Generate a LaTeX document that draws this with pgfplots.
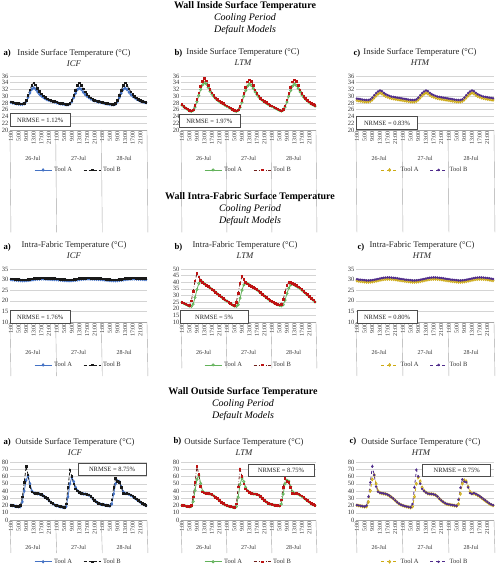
\documentclass[border=0pt]{standalone}
\usepackage{pgfplots}
\pgfplotsset{compat=1.18}
\usepackage{pgfplotstable}
\usepackage{fontspec}
\setmainfont{Liberation Serif}

\definecolor{icfA}{RGB}{68,114,196}
\definecolor{icfB}{RGB}{25,25,25}
\definecolor{ltmA}{RGB}{98,178,90}
\definecolor{ltmB}{RGB}{110,30,25}
\definecolor{ltmBm}{RGB}{190,20,20}
\definecolor{htmA}{RGB}{205,170,20}
\definecolor{htmB}{RGB}{80,45,140}

% Wall inside surface temperature (hourly, 26-28 Jul)
\pgfplotstableread{
t icfA icfB ltmA ltmB htmA htmB
0 28.2 28.3 27.4 27.5 28.8 29.3
1 28.0 28.1 26.9 27.0 28.7 29.2
2 27.9 28.0 26.5 26.6 28.6 29.1
3 27.8 27.9 26.1 26.2 28.5 29.0
4 27.7 27.8 25.7 25.8 28.4 28.9
5 27.6 27.7 25.5 25.6 28.4 28.9
6 27.6 27.7 25.8 26.0 28.4 28.9
7 27.8 27.9 26.8 27.2 28.6 29.1
8 28.5 28.8 28.4 29.0 29.0 29.6
9 29.7 30.3 30.2 31.0 29.6 30.3
10 31.0 31.9 32.0 32.9 30.2 30.9
11 32.1 33.3 33.4 34.4 30.7 31.4
12 32.5 34.0 34.0 35.2 31.0 31.7
13 32.1 33.4 33.6 34.6 30.8 31.5
14 31.3 32.3 32.6 33.3 30.4 31.0
15 30.6 31.4 31.5 32.0 30.0 30.6
16 30.1 30.7 30.6 31.0 29.8 30.3
17 29.7 30.1 29.9 30.2 29.6 30.1
18 29.3 29.6 29.3 29.5 29.4 29.9
19 29.0 29.2 28.8 29.0 29.3 29.8
20 28.8 28.9 28.4 28.6 29.2 29.7
21 28.6 28.7 28.0 28.2 29.1 29.6
22 28.4 28.5 27.7 27.8 29.0 29.5
23 28.3 28.4 27.3 27.4 28.9 29.4
24 28.1 28.3 27.0 27.1 28.8 29.3
25 27.9 28.0 26.7 26.8 28.7 29.2
26 27.8 27.9 26.4 26.5 28.6 29.1
27 27.7 27.8 26.0 26.1 28.5 29.0
28 27.6 27.7 25.7 25.8 28.4 28.9
29 27.5 27.6 25.5 25.6 28.4 28.9
30 27.5 27.6 25.8 26.0 28.4 28.9
31 27.7 27.8 26.7 27.0 28.6 29.1
32 28.4 28.7 28.2 28.8 29.0 29.6
33 29.6 30.2 30.0 30.8 29.6 30.3
34 30.9 31.8 31.7 32.7 30.2 30.9
35 32.0 33.2 33.0 34.2 30.7 31.4
36 32.4 33.9 33.6 34.9 31.0 31.7
37 32.0 33.3 33.2 34.4 30.8 31.5
38 31.2 32.2 32.3 33.2 30.4 31.0
39 30.5 31.3 31.3 31.9 30.0 30.6
40 30.0 30.6 30.5 30.9 29.8 30.3
41 29.6 30.0 29.8 30.1 29.6 30.1
42 29.2 29.5 29.2 29.4 29.4 29.9
43 28.9 29.1 28.7 28.9 29.3 29.8
44 28.7 28.8 28.3 28.5 29.2 29.7
45 28.5 28.6 27.9 28.1 29.1 29.6
46 28.3 28.4 27.6 27.7 29.0 29.5
47 28.2 28.3 27.2 27.3 28.9 29.4
48 28.1 28.2 27.0 27.1 28.8 29.3
49 27.9 28.0 26.7 26.8 28.7 29.2
50 27.8 27.9 26.4 26.5 28.6 29.1
51 27.7 27.8 26.1 26.2 28.5 29.0
52 27.6 27.7 25.8 25.9 28.4 28.9
53 27.5 27.6 25.6 25.7 28.4 28.9
54 27.5 27.6 25.9 26.1 28.4 28.9
55 27.7 27.8 26.8 27.1 28.6 29.1
56 28.4 28.7 28.3 28.9 29.0 29.6
57 29.6 30.2 30.0 30.8 29.6 30.3
58 30.9 31.8 31.7 32.7 30.2 30.9
59 32.0 33.2 33.0 34.2 30.7 31.4
60 32.4 33.9 33.6 34.9 31.0 31.7
61 32.0 33.3 33.2 34.4 30.8 31.5
62 31.2 32.2 32.3 33.2 30.4 31.0
63 30.5 31.3 31.3 31.9 30.0 30.6
64 30.0 30.6 30.4 30.9 29.8 30.3
65 29.6 30.0 29.7 30.0 29.6 30.1
66 29.2 29.5 29.1 29.3 29.4 29.9
67 28.9 29.1 28.6 28.8 29.3 29.8
68 28.6 28.7 28.1 28.3 29.2 29.7
69 28.4 28.5 27.7 27.9 29.1 29.6
70 28.2 28.3 27.4 27.5 29.0 29.5
71 28.1 28.2 27.1 27.2 28.9 29.4
}\inside

% Wall intra-fabric temperature
\pgfplotstableread{
t icfA icfB ltmA ltmB htmA htmB
0 30.00 30.40 24.8 25.0 29.50 30.20
1 29.90 30.30 24.0 24.3 29.30 30.00
2 29.80 30.20 23.3 23.6 29.20 29.90
3 29.70 30.10 22.6 23.0 29.10 29.80
4 29.60 30.00 22.0 22.5 29.00 29.70
5 29.55 29.95 21.8 26.0 28.90 29.60
6 29.50 29.90 23.5 33.0 28.90 29.60
7 29.50 29.90 28.5 41.0 28.95 29.65
8 29.55 29.95 34.5 46.5 29.05 29.75
9 29.65 30.05 39.0 44.0 29.20 29.90
10 29.75 30.15 41.0 41.5 29.40 30.10
11 29.90 30.30 40.2 40.0 29.60 30.30
12 30.05 30.45 38.8 38.8 29.80 30.50
13 30.15 30.55 37.7 37.8 30.00 30.70
14 30.25 30.65 36.7 36.8 30.15 30.85
15 30.30 30.70 35.7 35.8 30.25 30.95
16 30.35 30.75 34.7 34.8 30.30 31.00
17 30.35 30.75 33.6 33.7 30.30 31.00
18 30.30 30.70 32.4 32.5 30.25 30.95
19 30.25 30.65 31.2 31.3 30.15 30.85
20 30.20 30.60 30.0 30.1 30.05 30.75
21 30.15 30.55 28.8 28.9 29.90 30.60
22 30.10 30.50 27.6 27.7 29.75 30.45
23 30.05 30.45 26.5 26.6 29.60 30.30
24 30.00 30.40 25.8 26.0 29.50 30.20
25 29.90 30.30 24.8 25.0 29.30 30.00
26 29.80 30.20 23.8 24.0 29.20 29.90
27 29.70 30.10 22.8 23.0 29.10 29.80
28 29.60 30.00 22.0 22.3 29.00 29.70
29 29.55 29.95 21.8 25.0 28.90 29.60
30 29.50 29.90 23.0 31.5 28.90 29.60
31 29.50 29.90 28.0 39.0 28.95 29.65
32 29.55 29.95 34.0 44.5 29.05 29.75
33 29.65 30.05 38.0 42.0 29.20 29.90
34 29.75 30.15 39.5 40.0 29.40 30.10
35 29.90 30.30 39.0 38.8 29.60 30.30
36 30.05 30.45 38.0 37.8 29.80 30.50
37 30.15 30.55 37.0 37.0 30.00 30.70
38 30.25 30.65 36.0 36.2 30.15 30.85
39 30.30 30.70 35.2 35.4 30.25 30.95
40 30.35 30.75 34.3 34.5 30.30 31.00
41 30.35 30.75 33.2 33.4 30.30 31.00
42 30.30 30.70 32.0 32.2 30.25 30.95
43 30.25 30.65 30.8 31.0 30.15 30.85
44 30.20 30.60 29.6 29.8 30.05 30.75
45 30.15 30.55 28.4 28.6 29.90 30.60
46 30.10 30.50 27.2 27.4 29.75 30.45
47 30.05 30.45 26.1 26.3 29.60 30.30
48 30.00 30.40 25.3 25.5 29.50 30.20
49 29.90 30.30 24.5 24.7 29.30 30.00
50 29.80 30.20 23.8 24.0 29.20 29.90
51 29.70 30.10 23.1 23.3 29.10 29.80
52 29.60 30.00 22.5 22.8 29.00 29.70
53 29.55 29.95 22.2 23.5 28.90 29.60
54 29.50 29.90 23.0 27.0 28.90 29.60
55 29.50 29.90 26.5 32.5 28.95 29.65
56 29.55 29.95 31.5 37.5 29.05 29.75
57 29.65 30.05 35.5 39.8 29.20 29.90
58 29.75 30.15 38.0 40.0 29.40 30.10
59 29.90 30.30 38.8 39.3 29.60 30.30
60 30.05 30.45 38.0 38.3 29.80 30.50
61 30.15 30.55 37.0 37.4 30.00 30.70
62 30.25 30.65 36.2 36.6 30.15 30.85
63 30.30 30.70 35.2 35.6 30.25 30.95
64 30.35 30.75 34.0 34.4 30.30 31.00
65 30.35 30.75 32.8 33.2 30.30 31.00
66 30.30 30.70 31.6 32.0 30.25 30.95
67 30.25 30.65 30.4 30.8 30.15 30.85
68 30.20 30.60 29.0 29.2 30.05 30.75
69 30.15 30.55 27.7 27.9 29.90 30.60
70 30.10 30.50 26.4 26.6 29.75 30.45
71 30.05 30.45 25.1 25.3 29.60 30.30
}\fabric

% Wall outside surface temperature
\pgfplotstableread{
t icfA icfB ltmA ltmB htmA htmB
0 20.3 20.5 20.3 20.5 20.3 20.5
1 19.8 20.0 19.8 20.0 19.8 20.0
2 19.3 19.5 19.3 19.5 19.3 19.5
3 18.8 19.0 18.8 19.0 18.8 19.0
4 18.3 18.5 18.3 18.5 18.3 18.5
5 18.5 20.0 18.6 20.0 18.5 20.0
6 25.0 32.0 25.5 32.0 25.0 32.0
7 40.0 52.0 41.0 52.0 40.5 52.0
8 55.0 74.0 56.0 74.0 56.0 74.0
9 61.0 62.0 62.0 62.5 62.0 62.0
10 50.0 46.0 50.5 46.0 50.0 46.0
11 40.0 39.0 40.0 39.0 40.0 39.0
12 37.5 37.5 37.5 37.5 37.5 37.5
13 36.8 37.0 36.8 37.0 36.8 37.0
14 36.3 36.5 36.3 36.5 36.3 36.5
15 35.8 36.0 35.8 36.0 35.8 36.0
16 34.8 35.0 34.8 35.0 34.8 35.0
17 33.3 33.5 33.3 33.5 33.3 33.5
18 31.3 31.5 31.3 31.5 31.3 31.5
19 29.3 29.5 29.3 29.5 29.3 29.5
20 26.8 27.0 26.8 27.0 26.8 27.0
21 24.3 24.5 24.3 24.5 24.3 24.5
22 22.3 22.5 22.3 22.5 22.3 22.5
23 20.8 21.0 20.8 21.0 20.8 21.0
24 19.8 20.0 19.8 20.0 19.8 20.0
25 19.0 19.2 19.0 19.2 19.0 19.2
26 18.3 18.5 18.3 18.5 18.3 18.5
27 17.6 17.8 17.6 17.8 17.6 17.8
28 17.1 17.3 17.1 17.3 17.1 17.3
29 18.5 22.0 18.5 22.0 18.5 22.0
30 32.0 45.0 31.5 45.5 32.0 45.0
31 50.0 69.0 49.0 70.0 50.0 69.0
32 59.0 60.0 58.0 60.5 59.0 60.0
33 53.0 50.0 53.0 50.0 53.5 50.0
34 45.0 43.0 45.0 43.0 45.0 43.0
35 40.5 40.0 40.5 40.0 40.5 40.0
36 38.0 38.0 38.0 38.0 38.0 38.0
37 36.5 36.5 36.5 36.5 36.5 36.5
38 36.0 36.0 36.0 36.0 36.0 36.0
39 35.8 35.8 35.8 35.8 35.8 35.8
40 35.3 35.5 35.3 35.5 35.3 35.5
41 34.3 34.5 34.3 34.5 34.3 34.5
42 32.3 32.5 32.3 32.5 32.3 32.5
43 29.3 29.5 29.3 29.5 29.3 29.5
44 26.8 27.0 26.8 27.0 26.8 27.0
45 24.8 25.0 24.8 25.0 24.8 25.0
46 23.0 23.2 23.0 23.2 23.0 23.2
47 21.8 22.0 21.8 22.0 21.8 22.0
48 21.3 21.5 21.3 21.5 21.3 21.5
49 20.8 21.0 20.8 21.0 20.8 21.0
50 20.3 20.5 20.3 20.5 20.3 20.5
51 19.8 20.0 19.8 20.0 19.8 20.0
52 19.3 19.5 19.3 19.5 19.3 19.5
53 22.0 28.0 22.0 28.0 22.0 28.0
54 36.0 45.0 36.0 45.0 36.0 44.5
55 50.0 57.0 50.0 57.0 50.0 56.0
56 54.0 53.0 55.0 53.5 55.0 53.0
57 53.0 52.0 53.5 52.0 53.5 52.0
58 46.0 45.0 46.0 45.0 46.0 45.0
59 39.0 37.0 39.0 37.0 39.0 37.0
60 36.5 36.0 36.5 36.0 36.5 36.0
61 36.5 37.0 36.5 37.0 36.5 37.0
62 35.5 36.0 35.5 36.0 35.5 36.0
63 34.0 34.5 34.0 34.5 34.0 34.5
64 32.5 33.0 32.5 33.0 32.5 33.0
65 30.5 31.0 30.5 31.0 30.5 31.0
66 28.5 29.0 28.5 29.0 28.5 29.0
67 26.5 27.0 26.5 27.0 26.5 27.0
68 24.5 25.0 24.5 25.0 24.5 25.0
69 22.5 23.0 22.5 23.0 22.5 23.0
70 21.0 21.5 21.0 21.5 21.0 21.5
71 20.0 20.5 20.0 20.5 20.0 20.5
}\outside

\pgfplotsset{
  panel/.style={
    scale only axis, anchor=south west,
    xmin=-0.5, xmax=71.5,
    xtick={0,4,...,68},
    xticklabels={1:00,5:00,9:00,13:00,17:00,21:00,1:00,5:00,9:00,13:00,17:00,21:00,1:00,5:00,9:00,13:00,17:00,21:00},
    x tick label style={rotate=90, anchor=east, font=\fontsize{6}{6}\selectfont, inner sep=1pt, text=black!80},
    y tick label style={font=\fontsize{6.5}{7}\selectfont, text=black!80, inner sep=1.5pt},
    major tick length=0pt,
    ymajorgrids, grid style={black!17, line width=0.5pt},
    axis x line*=bottom, axis y line*=left,
    x axis line style={black!35}, y axis line style={draw=none},
    /pgf/number format/assume math mode=true,
    clip=false,
    legend columns=2,
    legend style={draw=none, fill=none, anchor=center,
      font=\fontsize{6.5}{7}\selectfont, text=black!80,
      /tikz/every even column/.append style={column sep=9pt}},
  },
  sA/.style={icfA, solid, line width=0.8pt, mark=diamond*, mark size=1.2pt},
  sB/.style={icfB, densely dashed, line width=0.8pt, mark=square*, mark size=0.8pt, mark options={solid}},
  lA/.style={ltmA, solid, line width=0.8pt, mark=*, mark size=1.1pt, mark options={fill=white, draw=ltmA}},
  lB/.style={ltmB, dash dot, line width=0.8pt, mark=square*, mark size=0.8pt, mark options={solid, fill=ltmBm, draw=ltmBm}},
  hA/.style={htmA, dashed, line width=0.8pt, mark=diamond*, mark size=1.3pt, mark options={solid, fill=white, draw=htmA}},
  hB/.style={htmB, dashed, line width=0.8pt, mark=*, mark size=0.8pt, mark options={solid}},
}

% day grouping under the hour labels: separators and day names
\newcommand{\days}[2]{%
  \draw[black!35] (rel axis cs:0,0) -- ++(0,-#1);
  \draw[black!35] (rel axis cs:0.33333,0) -- ++(0,-#1);
  \draw[black!35] (rel axis cs:0.66667,0) -- ++(0,-#1);
  \draw[black!35] (rel axis cs:1,0) -- ++(0,-#1);
  \node[font=\fontsize{6}{7}\selectfont, text=black!80, yshift=-#2] at (rel axis cs:0.16667,0) {26-Jul};
  \node[font=\fontsize{6}{7}\selectfont, text=black!80, yshift=-#2] at (rel axis cs:0.5,0) {27-Jul};
  \node[font=\fontsize{6}{7}\selectfont, text=black!80, yshift=-#2] at (rel axis cs:0.83333,0) {28-Jul};
}
\newcommand{\nrmse}[4]{%
  \node[draw=black!70, line width=0.7pt, fill=white, minimum width=#3, minimum height=12.5pt,
        inner sep=0pt, font=\fontsize{6.5}{7}\selectfont, text=black!85] at (rel axis cs:#1,#2) {#4};
}

\newcommand{\sectitle}[3]{%
  \node[font=\fontsize{10}{12}\selectfont\bfseries] at (#1pt,#2pt) {#3};
  \node[font=\fontsize{10}{12}\selectfont\itshape] at (#1pt,#2pt-12pt) {Cooling Period};
  \node[font=\fontsize{10}{12}\selectfont\itshape] at (#1pt,#2pt-24pt) {Default Models};
}
\newcommand{\ptitle}[4]{% x, y, title, model
  \node[font=\fontsize{8.7}{10}\selectfont, text=black!85] at (#1pt,#2pt) {#3};
  \node[font=\fontsize{8.7}{10}\selectfont\itshape, text=black!85] at (#1pt,#2pt-10.5pt) {#4};
}
\newcommand{\tag}[3]{\node[anchor=west, font=\fontsize{8.7}{10}\selectfont\bfseries] at (#1pt,#2pt) {#3};}

\begin{document}
\begin{tikzpicture}
\useasboundingbox (0,0) rectangle (500pt,571pt);

% ---------------- inside surface ----------------
\sectitle{245}{565}{Wall Inside Surface Temperature}
\ptitle{74}{518}{Inside Surface Temperature (°C)}{ICF}
\ptitle{243}{518.5}{Inside Surface Temperature (°C)}{LTM}
\ptitle{420}{518.5}{Inside Surface Temperature (°C)}{HTM}
\tag{0}{518}{a)}
\tag{171}{518}{b)}
\tag{350}{518}{c)}

\begin{axis}[panel, at={(10pt,441pt)}, width=137pt, height=54pt,
  ymin=20, ymax=36, ytick={20,22,...,36}, legend style={at={(0.5,-0.74)}}]
\addplot[sA] table[x=t,y=icfA]{\inside}; \addlegendentry{Tool A}
\addplot[sB] table[x=t,y=icfB]{\inside}; \addlegendentry{Tool B}
\days{35pt}{28pt}
\nrmse{0.22}{0.185}{60pt}{NRMSE = 1.12\%}
\end{axis}

\begin{axis}[panel, at={(181pt,441pt)}, width=135pt, height=54pt,
  ymin=20, ymax=36, ytick={20,22,...,36}, legend style={at={(0.5,-0.74)}}]
\addplot[lA] table[x=t,y=ltmA]{\inside}; \addlegendentry{Tool A}
\addplot[lB] table[x=t,y=ltmB]{\inside}; \addlegendentry{Tool B}
\days{35pt}{28pt}
\nrmse{0.21}{0.167}{61pt}{NRMSE = 1.97\%}
\end{axis}

\begin{axis}[panel, at={(356pt,441pt)}, width=138pt, height=54pt,
  ymin=20, ymax=36, ytick={20,22,...,36}, legend style={at={(0.5,-0.74)}}]
\addplot[hA] table[x=t,y=htmA]{\inside}; \addlegendentry{Tool A}
\addplot[hB] table[x=t,y=htmB]{\inside}; \addlegendentry{Tool B}
\days{35pt}{28pt}
\nrmse{0.225}{0.13}{61pt}{NRMSE = 0.83\%}
\end{axis}

% ---------------- intra-fabric ----------------
\sectitle{250}{374}{Wall Intra-Fabric Surface Temperature}
\ptitle{74}{325.5}{Intra-Fabric Temperature (°C)}{ICF}
\ptitle{245}{325.5}{Intra-Fabric Temperature (°C)}{LTM}
\ptitle{422}{325.5}{Intra-Fabric Temperature (°C)}{HTM}
\tag{0}{324}{a)}
\tag{171}{324}{b)}
\tag{354}{324}{c)}

\begin{axis}[panel, at={(10pt,249pt)}, width=137pt, height=53pt,
  ymin=10, ymax=35, ytick={10,15,...,35}, legend style={at={(0.5,-0.81)}}]
\addplot[sA] table[x=t,y=icfA]{\fabric}; \addlegendentry{Tool A}
\addplot[sB] table[x=t,y=icfB]{\fabric}; \addlegendentry{Tool B}
\days{33pt}{30pt}
\nrmse{0.22}{0.094}{60pt}{NRMSE = 1.76\%}
\end{axis}

\begin{axis}[panel, at={(181pt,249pt)}, width=135pt, height=53pt,
  ymin=10, ymax=50, ytick={10,15,...,50}, legend style={at={(0.5,-0.81)}}]
\addplot[lA] table[x=t,y=ltmA]{\fabric}; \addlegendentry{Tool A}
\addplot[lB] table[x=t,y=ltmB]{\fabric}; \addlegendentry{Tool B}
\days{33pt}{30pt}
\nrmse{0.245}{0.094}{68pt}{NRMSE = 5\%}
\end{axis}

\begin{axis}[panel, at={(356pt,249pt)}, width=138pt, height=53pt,
  ymin=10, ymax=35, ytick={10,15,...,35}, legend style={at={(0.5,-0.81)}}]
\addplot[hA] table[x=t,y=htmA]{\fabric}; \addlegendentry{Tool A}
\addplot[hB] table[x=t,y=htmB]{\fabric}; \addlegendentry{Tool B}
\days{33pt}{30pt}
\nrmse{0.225}{0.094}{60pt}{NRMSE = 0.80\%}
\end{axis}

% ---------------- outside surface ----------------
\sectitle{243}{179}{Wall Outside Surface Temperature}
\ptitle{75}{128.5}{Outside Surface Temperature (°C)}{ICF}
\ptitle{244}{128.5}{Outside Surface Temperature (°C)}{LTM}
\ptitle{421}{128.5}{Outside Surface Temperature (°C)}{HTM}
\tag{0}{129}{a)}
\tag{170}{130}{b)}
\tag{346}{130}{c)}

\begin{axis}[panel, at={(10pt,51pt)}, width=137pt, height=58pt,
  ymin=0, ymax=80, ytick={0,10,...,80}, legend style={at={(0.5,-0.72)}}]
\addplot[sA] table[x=t,y=icfA]{\outside}; \addlegendentry{Tool A}
\addplot[sB] table[x=t,y=icfB]{\outside}; \addlegendentry{Tool B}
\days{33pt}{27pt}
\nrmse{0.745}{0.87}{68pt}{NRMSE = 8.75\%}
\end{axis}

\begin{axis}[panel, at={(181pt,51pt)}, width=135pt, height=58pt,
  ymin=0, ymax=80, ytick={0,10,...,80}, legend style={at={(0.5,-0.72)}}]
\addplot[lA] table[x=t,y=ltmA]{\outside}; \addlegendentry{Tool A}
\addplot[lB] table[x=t,y=ltmB]{\outside}; \addlegendentry{Tool B}
\days{33pt}{27pt}
\nrmse{0.74}{0.86}{66pt}{NRMSE = 8.75\%}
\end{axis}

\begin{axis}[panel, at={(356pt,51pt)}, width=138pt, height=58pt,
  ymin=0, ymax=80, ytick={0,10,...,80}, legend style={at={(0.5,-0.72)}}]
\addplot[hA] table[x=t,y=htmA]{\outside}; \addlegendentry{Tool A}
\addplot[hB] table[x=t,y=htmB]{\outside}; \addlegendentry{Tool B}
\days{33pt}{27pt}
\nrmse{0.73}{0.86}{68pt}{NRMSE = 8.75\%}
\end{axis}
\end{tikzpicture}
\end{document}
